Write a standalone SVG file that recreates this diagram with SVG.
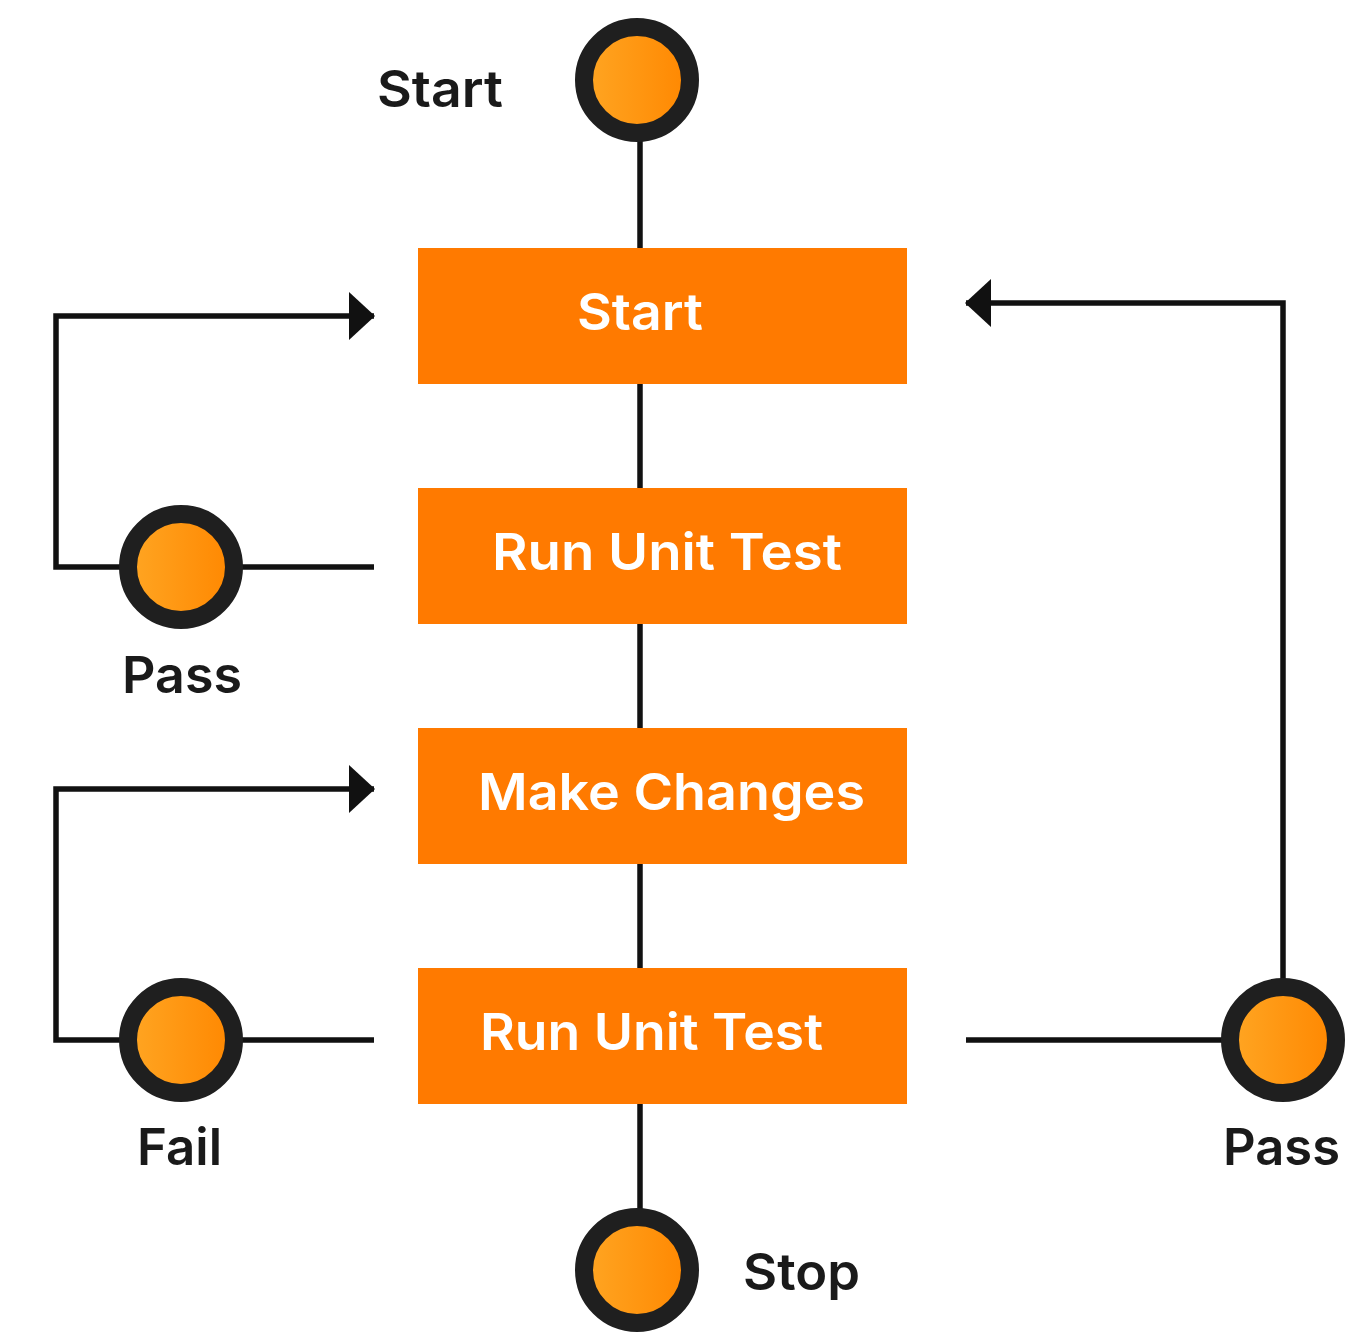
<svg xmlns="http://www.w3.org/2000/svg" width="1353" height="1332" viewBox="0 0 1353 1332">
  <defs>
    <linearGradient id="dotFill" x1="0" y1="0" x2="1" y2="0">
      <stop offset="0" stop-color="#FFA623"/>
      <stop offset="1" stop-color="#FF8700"/>
    </linearGradient>
    <marker id="arrow" viewBox="0 0 26 48" refX="25" refY="24" markerWidth="26" markerHeight="48" markerUnits="userSpaceOnUse" orient="auto">
      <path d="M0,0 L26,24 L0,48 Z" fill="#111111"/>
    </marker>
  </defs>
  <style>
    .box { fill: #FF7A00; }
    .box-label { font-family: Inter, "Liberation Sans", sans-serif; font-weight: 600; font-size: 51px; fill: #FFFFFF; }
    .label { font-family: Inter, "Liberation Sans", sans-serif; font-weight: 600; font-size: 51px; fill: #1A1A1A; }
    .dot { fill: url(#dotFill); stroke: #1F1F1F; stroke-width: 18; }
    .wire { fill: none; stroke: #111111; stroke-width: 5.5; }
  </style>
  <rect width="1353" height="1332" fill="#FFFFFF"/>

  <!-- connectors -->
  <g id="connectors">
    <line class="wire" x1="640" y1="130" x2="640" y2="250"/>
    <line class="wire" x1="640" y1="382" x2="640" y2="490"/>
    <line class="wire" x1="640" y1="622" x2="640" y2="730"/>
    <line class="wire" x1="640" y1="862" x2="640" y2="970"/>
    <line class="wire" x1="640" y1="1102" x2="640" y2="1215"/>
    <!-- pass loop back to start -->
    <path class="wire" d="M374,567 H56 V316 H374" marker-end="url(#arrow)"/>
    <!-- fail loop back to make changes -->
    <path class="wire" d="M374,1040 H56 V789 H374" marker-end="url(#arrow)"/>
    <!-- final pass loop back to start -->
    <path class="wire" d="M966,1040 H1283 V303 H966" marker-end="url(#arrow)"/>
  </g>

  <!-- terminal and decision dots -->
  <g id="start-dot">
    <circle class="dot" cx="637" cy="80" r="53"/>
    <text class="label" x="377" y="107" textLength="126" lengthAdjust="spacingAndGlyphs">Start</text>
  </g>
  <g id="pass-dot-1">
    <circle class="dot" cx="181" cy="567" r="53"/>
    <text class="label" x="122" y="693" textLength="120" lengthAdjust="spacingAndGlyphs">Pass</text>
  </g>
  <g id="fail-dot">
    <circle class="dot" cx="181" cy="1040" r="53"/>
    <text class="label" x="137" y="1165" textLength="85" lengthAdjust="spacingAndGlyphs">Fail</text>
  </g>
  <g id="pass-dot-2">
    <circle class="dot" cx="1283" cy="1040" r="53"/>
    <text class="label" x="1223" y="1165" textLength="117" lengthAdjust="spacingAndGlyphs">Pass</text>
  </g>
  <g id="stop-dot">
    <circle class="dot" cx="637" cy="1270" r="53"/>
    <text class="label" x="743" y="1290" textLength="117" lengthAdjust="spacingAndGlyphs">Stop</text>
  </g>

  <!-- process boxes -->
  <g id="box-start">
    <rect class="box" x="418" y="248" width="489" height="136"/>
    <text class="box-label" x="577" y="330" textLength="126" lengthAdjust="spacingAndGlyphs">Start</text>
  </g>
  <g id="box-run-test-1">
    <rect class="box" x="418" y="488" width="489" height="136"/>
    <text class="box-label" x="492" y="570" textLength="350" lengthAdjust="spacingAndGlyphs">Run Unit Test</text>
  </g>
  <g id="box-make-changes">
    <rect class="box" x="418" y="728" width="489" height="136"/>
    <text class="box-label" x="478" y="810" textLength="387" lengthAdjust="spacingAndGlyphs">Make Changes</text>
  </g>
  <g id="box-run-test-2">
    <rect class="box" x="418" y="968" width="489" height="136"/>
    <text class="box-label" x="480" y="1050" textLength="343" lengthAdjust="spacingAndGlyphs">Run Unit Test</text>
  </g>
</svg>
